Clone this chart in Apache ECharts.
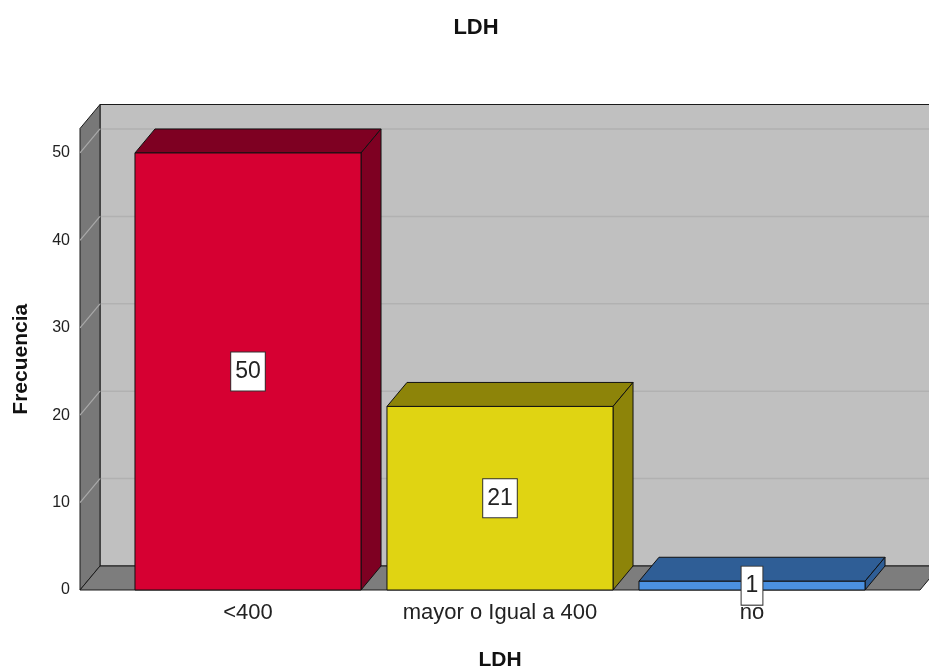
<!DOCTYPE html>
<html>
<head>
<meta charset="utf-8">
<script src="https://cdn.jsdelivr.net/npm/echarts@6/dist/echarts.min.js"></script>
<style>
  html, body { margin: 0; padding: 0; background: #ffffff; }
  #chart { width: 929px; height: 669px; }
</style>
</head>
<body>
<div id="chart"></div>
<script>
// Frequency table for LDH
const categories = ['<400', 'mayor o Igual a 400', 'no'];
const frequencies = [50, 21, 1];
const yTicks = [10, 20, 30, 40, 50];

const frontColors = ['#D60032', '#E0D412', '#4B91E1'];
const sideColors = ['#7E0022', '#8D8409', '#2F5E96'];

// 3D depth offset of the box (pixels)
const DX = 20, DY = 24;
const FONT = '"Liberation Sans", Arial, Helvetica, sans-serif';

const chart = echarts.init(document.getElementById('chart'), null, { renderer: 'canvas' });

// Walls, floor and grid lines of the 3D box
function renderFrame(params, api) {
  const cs = params.coordSys;
  const band = api.size([1, 0])[0];
  const pad = band / 6;
  const x0 = cs.x - pad;
  const x1 = cs.x + cs.width + pad;
  const yb = api.coord([0, 0])[1];
  const yt = cs.y;
  const children = [];
  children.push({
    type: 'rect',
    shape: { x: x0 + DX, y: yt - DY, width: x1 - x0, height: yb - yt },
    style: { fill: '#C0C0C0', stroke: '#1a1a1a', lineWidth: 1 }
  });
  yTicks.forEach(function (v) {
    const y = api.coord([0, v])[1];
    children.push({
      type: 'line',
      shape: { x1: x0 + DX, y1: y - DY, x2: x1 + DX, y2: y - DY },
      style: { stroke: '#B1B1B1', lineWidth: 1.5 }
    });
  });
  children.push({
    type: 'polygon',
    shape: { points: [[x0, yb], [x0, yt], [x0 + DX, yt - DY], [x0 + DX, yb - DY]] },
    style: { fill: '#787878', stroke: '#1a1a1a', lineWidth: 1 }
  });
  yTicks.forEach(function (v) {
    const y = api.coord([0, v])[1];
    children.push({
      type: 'line',
      shape: { x1: x0, y1: y, x2: x0 + DX, y2: y - DY },
      style: { stroke: '#A9A9A9', lineWidth: 1.2 }
    });
  });
  children.push({
    type: 'polygon',
    shape: { points: [[x0, yb], [x1, yb], [x1 + DX, yb - DY], [x0 + DX, yb - DY]] },
    style: { fill: '#7D7D7D', stroke: '#1a1a1a', lineWidth: 1 }
  });
  return { type: 'group', children: children };
}

// 3D bar: front face, top face, right face and a boxed value label
function renderBar(params, api) {
  const i = api.value(0);
  const v = api.value(1);
  const top = api.coord([i, v]);
  const base = api.coord([i, 0]);
  const w = api.size([1, 0])[0] * 0.897;
  const L = top[0] - w / 2, R = top[0] + w / 2, T = top[1], B = base[1];
  const front = frontColors[params.dataIndex];
  const side = sideColors[params.dataIndex];
  const edge = { stroke: '#111', lineWidth: 1 };
  return {
    type: 'group',
    children: [
      { type: 'polygon', shape: { points: [[L, T], [L + DX, T - DY], [R + DX, T - DY], [R, T]] },
        style: Object.assign({ fill: side }, edge) },
      { type: 'polygon', shape: { points: [[R, T], [R + DX, T - DY], [R + DX, B - DY], [R, B]] },
        style: Object.assign({ fill: side }, edge) },
      { type: 'rect', shape: { x: L, y: T, width: R - L, height: B - T },
        style: Object.assign({ fill: front }, edge) },
      { type: 'text', x: (L + R) / 2, y: (T + B) / 2, z2: 10,
        style: {
          text: String(v), fill: '#222', font: '23px ' + FONT,
          align: 'center', verticalAlign: 'middle', lineHeight: 24,
          backgroundColor: '#ffffff', borderColor: '#333', borderWidth: 1,
          padding: [7, 4]
        } }
    ]
  };
}

const option = {
  backgroundColor: '#ffffff',
  animation: false,
  title: {
    text: 'LDH',
    left: 471,
    top: 12,
    textAlign: 'center',
    textStyle: { fontFamily: FONT, fontSize: 22, fontWeight: 'bold', color: '#111' }
  },
  grid: { left: 122, right: 51, top: 128.5, bottom: 79, outerBoundsMode: 'none', containLabel: false },
  xAxis: {
    type: 'category',
    data: categories,
    axisLine: { show: false },
    axisTick: { show: false },
    axisLabel: { fontFamily: FONT, fontSize: 22, color: '#222', margin: 12, interval: 0, hideOverlap: false },
    name: 'LDH',
    nameLocation: 'middle',
    nameGap: 60,
    nameTextStyle: { fontFamily: FONT, fontSize: 21, fontWeight: 'bold', color: '#111' }
  },
  yAxis: {
    type: 'value',
    min: 0,
    max: 52.8,
    interval: 10,
    showMaxLabel: false,
    axisLine: { show: false },
    axisTick: { show: false },
    splitLine: { show: false },
    axisLabel: {
      fontFamily: FONT, fontSize: 16, color: '#222', margin: 52,
      formatter: function (v) { return v % 10 === 0 ? String(v) : ''; }
    },
    name: 'Frecuencia',
    nameLocation: 'middle',
    nameGap: 90,
    nameTextStyle: { fontFamily: FONT, fontSize: 21, fontWeight: 'bold', color: '#111' }
  },
  series: [
    {
      type: 'custom',
      z: 1,
      silent: true,
      renderItem: renderFrame,
      data: [[0, 0]],
      clip: false
    },
    {
      type: 'custom',
      z: 2,
      renderItem: renderBar,
      data: frequencies.map(function (f, i) { return [i, f]; }),
      clip: false
    }
  ]
};

chart.setOption(option);
</script>
</body>
</html>
